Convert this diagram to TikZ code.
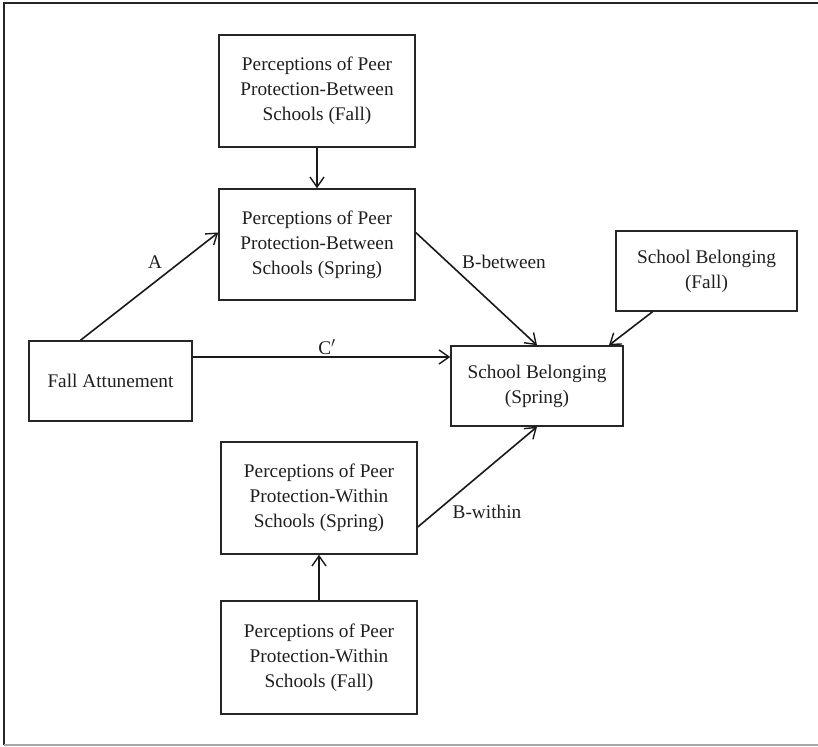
\documentclass[tikz,border=0pt]{standalone}
\usepackage{fontspec}
\setmainfont{Liberation Serif}
\usetikzlibrary{arrows.meta,calc}
\begin{document}
\begin{tikzpicture}[x=1pt,y=-1pt,
  every node/.append style={font=\fontsize{19.3}{25}\selectfont, text=black!88},
  box/.style={draw=black!85, line width=1.5pt, align=center, inner sep=0pt},
  conn/.style={draw=black!90, line width=1.6pt, -{Straight Barb[length=10pt,width=14pt,line width=1.4pt]}},
  lbl/.style={inner sep=0pt}]
\useasboundingbox (0,0) rectangle (818,746);
% frame
\draw[line width=2pt, black!85] (818,3) -- (4,3) -- (4,745);
\draw[line width=2pt, black!35] (4,745) -- (818,745);
% boxes
\node[box, minimum width=196, minimum height=112] (ppbf) at (317,91)
  {Perceptions of Peer\\Protection-Between\\Schools (Fall)};
\node[box, minimum width=196, minimum height=111] (ppbs) at (317,244.5)
  {Perceptions of Peer\\Protection-Between\\Schools (Spring)};
\node[box, minimum width=163, minimum height=80] (fa) at (110.5,381)
  {Fall Attunement};
\node[box, minimum width=172, minimum height=80] (sbs) at (537,386)
  {School Belonging\\(Spring)};
\node[box, minimum width=181, minimum height=80] (sbf) at (706.5,271)
  {School Belonging\\(Fall)};
\node[box, minimum width=196, minimum height=112] (ppws) at (319,498)
  {Perceptions of Peer\\Protection-Within\\Schools (Spring)};
\node[box, minimum width=196, minimum height=113] (ppwf) at (319,657.5)
  {Perceptions of Peer\\Protection-Within\\Schools (Fall)};
% connectors
\draw[conn] (ppbf.south) -- (ppbs.north);
\draw[conn] (ppwf.north) -- (ppws.south);
\draw[conn] ([xshift=-30pt]fa.north) -- ([yshift=12pt]ppbs.west);
\draw[conn] ([yshift=24pt]fa.east) -- ([yshift=24pt]fa.east -| sbs.west);
\draw[conn] ([yshift=12pt]ppbs.east) -- (sbs.north);
\draw[conn] ([xshift=-54pt]sbf.south) -- ([xshift=72pt]sbs.north);
\draw[conn] ([yshift=-29pt]ppws.east) -- (sbs.south);
% labels
\node[lbl] (la) at (155,262) {A};
\node[lbl] (lc) at (327,347) {C$'$};
\node[lbl] (lbb) at (504,262) {B-between};
\node[lbl] (lbw) at (487,512) {B-within};
\end{tikzpicture}
\end{document}
